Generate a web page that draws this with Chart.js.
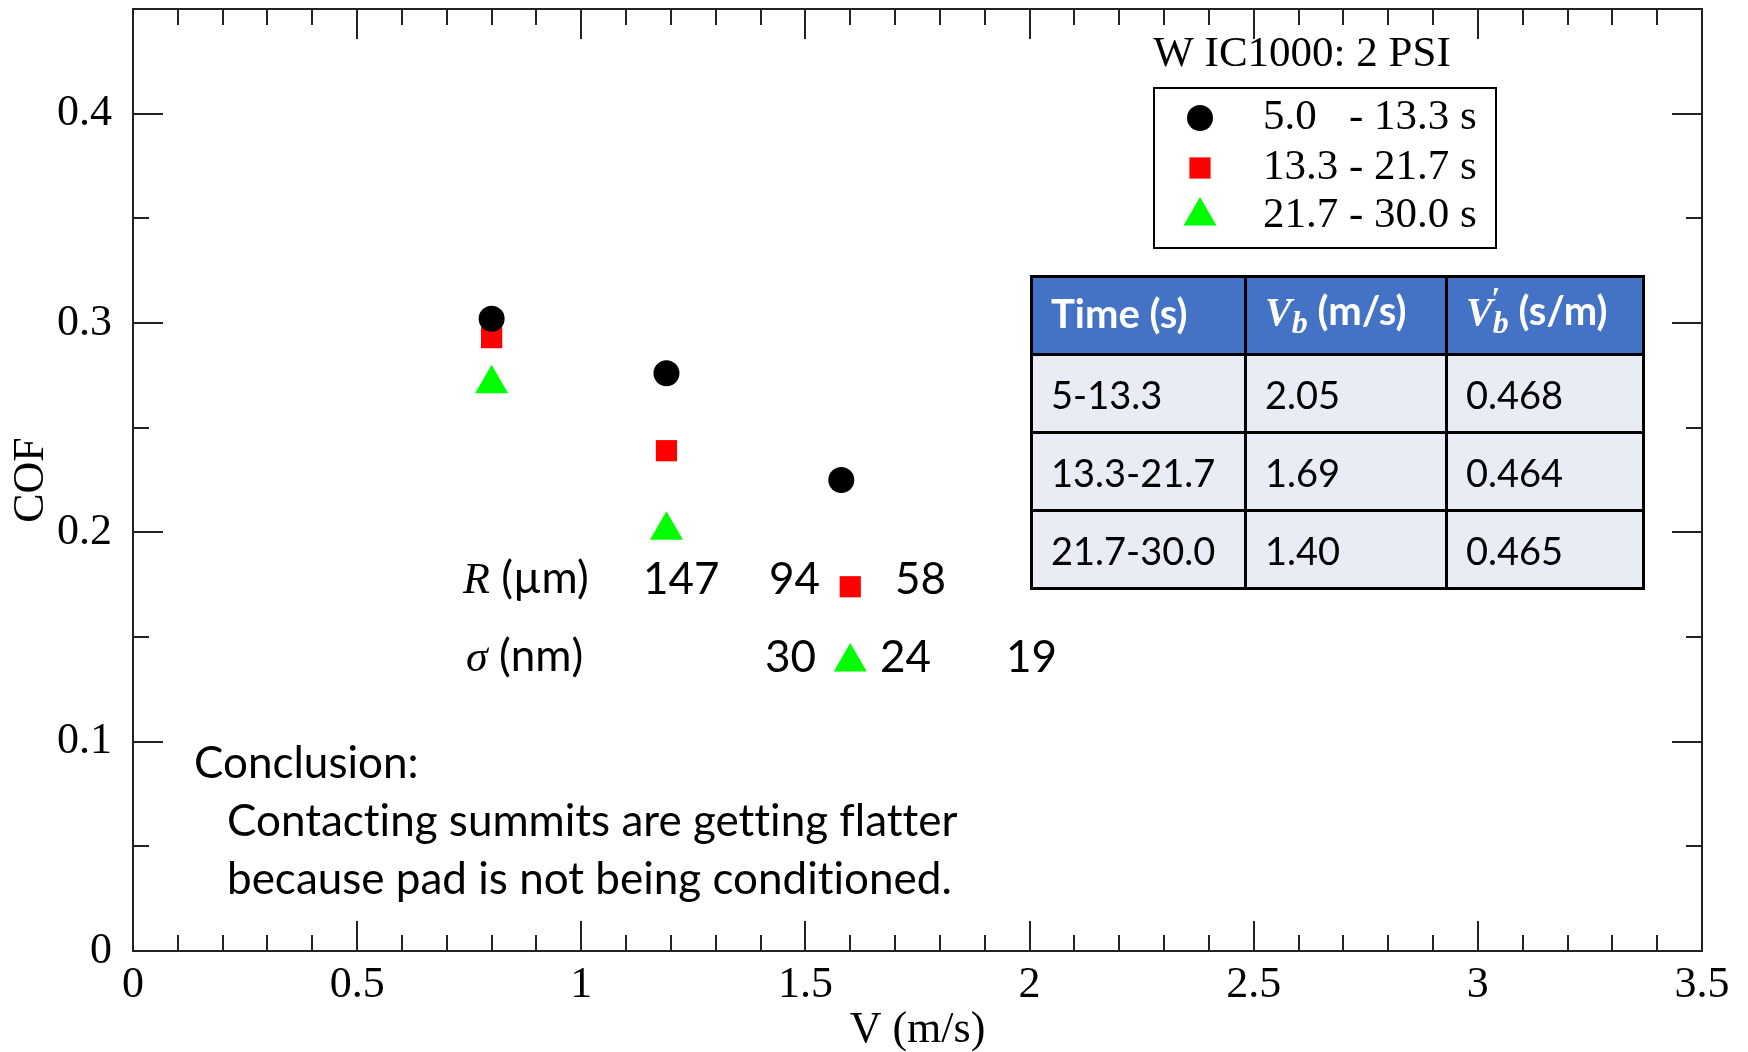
<!DOCTYPE html>
<html>
<head>
<meta charset="utf-8">
<title>COF vs V</title>
<script src="https://cdn.jsdelivr.net/npm/chart.js@4.4.0/dist/chart.umd.min.js"></script>
<style>
  body { margin: 0; background: #fff; }
  #wrap { position: relative; width: 1748px; height: 1052px; }
  .note { position: absolute; font-family: Lato, sans-serif; font-size: 44px; color: #000; white-space: nowrap; line-height: 1; transform: translateY(-50%); font-variant-ligatures: none; }
  .mi { font-family: "Liberation Serif", serif; font-style: italic; }
  #tbl { position: absolute; left: 1030px; top: 275px; width: 612px; border-collapse: collapse; table-layout: fixed; font-family: Lato, sans-serif; font-size: 38px; font-variant-ligatures: none; }
  #tbl th, #tbl td { border: 3px solid #000; height: 78px; padding: 0 0 0 18px; text-align: left; box-sizing: border-box; white-space: nowrap; }
  #tbl th { background: #4472C4; color: #fff; font-weight: bold; font-size: 40px; padding-bottom: 5px; }
  #tbl td { background: #E9EBF5; color: #000; font-weight: normal; }
  #tbl .mv { font-family: "Liberation Serif", serif; font-style: italic; font-weight: bold; }
  #tbl sub { font-size: 0.8em; vertical-align: -0.25em; }
  #tbl .vb { position: relative; }
  #tbl .prime { position: absolute; left: 25px; top: -6px; font-size: 0.8em; }
</style>
</head>
<body>
<div id="wrap">
  <canvas id="cof" width="1748" height="1052"></canvas>
  <table id="tbl">
    <colgroup><col style="width:214px"><col style="width:201px"><col style="width:197px"></colgroup>
    <thead>
      <tr>
        <th>Time (s)</th>
        <th><span class="mv">V</span><sub class="mv">b</sub> (m/s)</th>
        <th><span class="vb"><span class="mv">V</span><sub class="mv">b</sub><span class="prime mv">′</span></span> (s/m)</th>
      </tr>
    </thead>
    <tbody id="tbody"></tbody>
  </table>
</div>
<script>
// COF measured at three speeds, one series per time window
const seriesLabels = ['5.0 - 13.3 s', '13.3 - 21.7 s', '21.7 - 30.0 s'];
const blackV = [0.80, 1.19, 1.58];
const blackCOF = [0.302, 0.276, 0.225];
const redV = [0.80, 1.19, 1.60];
const redCOF = [0.293, 0.239, 0.174];
const greenV = [0.80, 1.19, 1.60];
const greenCOF = [0.271, 0.201, 0.138];

const xTicks = [0, 0.5, 1, 1.5, 2, 2.5, 3, 3.5];
const yTicks = [0, 0.1, 0.2, 0.3, 0.4];

// table values
const timeRanges = ['5-13.3', '13.3-21.7', '21.7-30.0'];
const vb = ['2.05', '1.69', '1.40'];
const vbPrime = ['0.468', '0.464', '0.465'];

// summit radius / roughness per window
const rValues = ['147', '94', '58'];
const sigmaValues = ['30', '24', '19'];

const legendTitle = 'W IC1000: 2 PSI';
const serif = '"Liberation Serif", "Times New Roman", serif';

// fill table rows
const tbody = document.getElementById('tbody');
for (let i = 0; i < timeRanges.length; i++) {
    const tr = document.createElement('tr');
    [timeRanges[i], vb[i], vbPrime[i]].forEach(t => {
        const td = document.createElement('td');
        td.textContent = t;
        tr.appendChild(td);
    });
    tbody.appendChild(tr);
}

// text notes on the plot
const wrap = document.getElementById('wrap');
function note(html, left, top) {
    const d = document.createElement('div');
    d.className = 'note';
    d.innerHTML = html;
    d.style.left = left + 'px';
    d.style.top = top + 'px';
    wrap.appendChild(d);
}
note('<span class="mi">R</span> (µm)', 463, 577);
[643, 769, 895].forEach((x, i) => note(rValues[i], x, 577));
note('<span class="mi">σ</span> (nm)', 466, 655);
[765, 880, 1006].forEach((x, i) => note(sigmaValues[i], x, 655));
note('Conclusion:', 194, 761);
note('Contacting summits are getting flatter', 227, 819);
note('because pad is not being conditioned.', 227, 877);

function toPoints(xs, ys) {
    return xs.map((x, i) => ({x: x, y: ys[i]}));
}

// frame with inward major/minor ticks on all four sides
const frameTicks = {
    id: 'frameTicks',
    beforeDatasetsDraw(chart) {
        const ctx = chart.ctx;
        const a = chart.chartArea;
        const x = chart.scales.x, y = chart.scales.y;
        ctx.save();
        ctx.strokeStyle = '#222';
        ctx.lineWidth = 2;
        ctx.strokeRect(a.left, a.top, a.right - a.left, a.bottom - a.top);
        ctx.beginPath();
        for (let i = 1; i < 35; i++) {
            const px = Math.round(x.getPixelForValue(i / 10));
            const len = i % 5 === 0 ? 30 : 16;
            ctx.moveTo(px, a.bottom); ctx.lineTo(px, a.bottom - len);
            ctx.moveTo(px, a.top); ctx.lineTo(px, a.top + len);
        }
        for (let j = 1; j < 9; j++) {
            const py = Math.round(y.getPixelForValue(j * 0.05));
            const len = j % 2 === 0 ? 30 : 16;
            ctx.moveTo(a.left, py); ctx.lineTo(a.left + len, py);
            ctx.moveTo(a.right, py); ctx.lineTo(a.right - len, py);
        }
        ctx.stroke();
        ctx.restore();
    }
};

// boxed legend with title above it
const legendBox = {
    id: 'legendBox',
    afterDraw(chart) {
        const ctx = chart.ctx;
        ctx.save();
        ctx.font = '43px ' + serif;
        ctx.fillStyle = '#000';
        ctx.textBaseline = 'middle';
        ctx.textAlign = 'center';
        ctx.fillText(legendTitle, 1302, 55);
        ctx.strokeStyle = '#000';
        ctx.lineWidth = 2;
        ctx.strokeRect(1154, 88, 342, 160);
        ctx.textAlign = 'left';
        const rowY = [118, 168, 216];
        const textX = 1263;
        const dashX = textX + ctx.measureText(seriesLabels[1].split(' - ')[0] + ' ').width;
        chart.data.datasets.forEach((ds, i) => {
            ctx.fillStyle = ds.backgroundColor;
            Chart.helpers.drawPoint(ctx, {pointStyle: ds.pointStyle, radius: ds.pointRadius, borderWidth: 0, rotation: 0}, 1200, rowY[i]);
            const parts = seriesLabels[i].split(' - ');
            ctx.fillStyle = '#000';
            ctx.fillText(parts[0], textX, rowY[i]);
            ctx.fillText('- ' + parts[1], dashX, rowY[i]);
        });
        ctx.restore();
    }
};

const tickFont = {family: serif, size: 44, lineHeight: 1};

new Chart(document.getElementById('cof').getContext('2d'), {
    type: 'scatter',
    data: {
        datasets: [
            {label: seriesLabels[0], data: toPoints(blackV, blackCOF), pointStyle: 'circle', pointRadius: 13, backgroundColor: '#000000', borderWidth: 0},
            {label: seriesLabels[1], data: toPoints(redV, redCOF), pointStyle: 'rect', pointRadius: 15, backgroundColor: '#ff0000', borderWidth: 0},
            {label: seriesLabels[2], data: toPoints(greenV, greenCOF), pointStyle: 'triangle', pointRadius: 19, backgroundColor: '#00ff00', borderWidth: 0}
        ]
    },
    options: {
        responsive: false,
        animation: false,
        events: [],
        layout: {autoPadding: false, padding: {top: 9, right: 46, left: 0, bottom: 0}},
        plugins: {legend: {display: false}, tooltip: {enabled: false}},
        scales: {
            x: {
                type: 'linear', min: 0, max: 3.5,
                afterBuildTicks: s => { s.ticks = xTicks.map(v => ({value: v})); },
                afterFit: s => { s.height = 101; s.paddingLeft = 0; s.paddingRight = 0; },
                grid: {display: false, drawTicks: false},
                border: {display: false},
                ticks: {padding: 12, color: '#000', font: tickFont, maxRotation: 0, callback: v => String(v)},
                title: {display: true, text: 'V (m/s)', color: '#000', font: tickFont, padding: 0}
            },
            y: {
                type: 'linear', min: 0, max: 0.45,
                afterBuildTicks: s => { s.ticks = yTicks.map(v => ({value: v})); },
                afterFit: s => { s.width = 133; s.paddingTop = 0; s.paddingBottom = 0; },
                grid: {display: false, drawTicks: false},
                border: {display: false},
                ticks: {padding: 21, color: '#000', font: tickFont, callback: v => String(v)},
                title: {display: true, text: 'COF', color: '#000', font: tickFont, padding: {top: 9, bottom: 0}}
            }
        }
    },
    plugins: [frameTicks, legendBox]
});
</script>
</body>
</html>
